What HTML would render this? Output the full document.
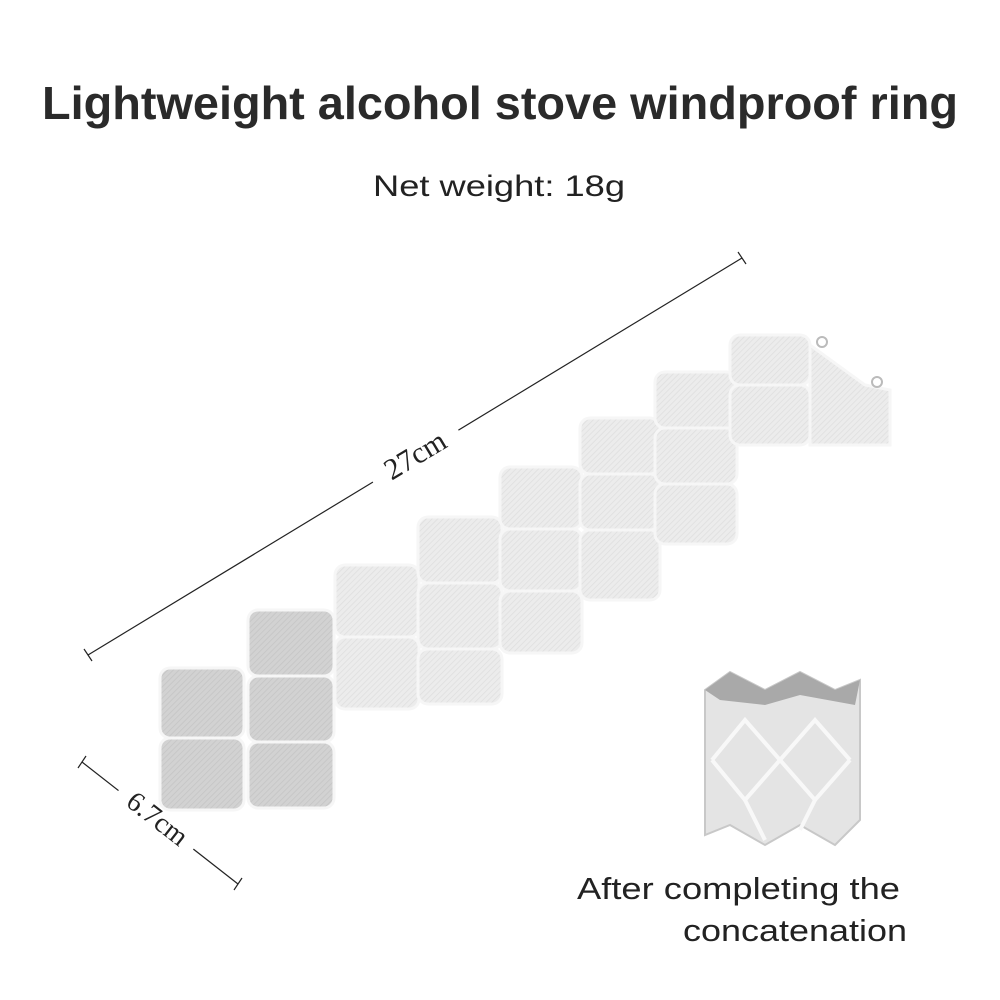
<!DOCTYPE html>
<html><head><meta charset="utf-8"><style>
html,body{margin:0;padding:0;background:#fff;}
svg{display:block;}
</style></head><body>
<svg width="1000" height="1000" viewBox="0 0 1000 1000" xmlns="http://www.w3.org/2000/svg">
<defs>
<pattern id="h" width="4" height="4" patternUnits="userSpaceOnUse" patternTransform="rotate(45)">
<rect width="4" height="4" fill="#ececec"/><line x1="0" y1="0" x2="0" y2="4" stroke="#dedede" stroke-width="1.5"/>
</pattern>
<pattern id="hd" width="4" height="4" patternUnits="userSpaceOnUse" patternTransform="rotate(45)">
<rect width="4" height="4" fill="#d2d2d2"/><line x1="0" y1="0" x2="0" y2="4" stroke="#c4c4c4" stroke-width="1.5"/>
</pattern>
</defs>
<rect width="1000" height="1000" fill="#fff"/>
<text x="42" y="119" font-family="Liberation Sans, sans-serif" font-weight="bold" font-size="46" fill="#2a2a2a" textLength="916" lengthAdjust="spacingAndGlyphs">Lightweight alcohol stove windproof ring</text>
<text x="373" y="196" font-family="Liberation Sans, sans-serif" font-size="30" fill="#222" textLength="252" lengthAdjust="spacingAndGlyphs">Net weight: 18g</text>

<line x1="88" y1="655" x2="742" y2="258" stroke="#222" stroke-width="1.2"/>
<line x1="84" y1="649" x2="92" y2="661" stroke="#222" stroke-width="1.2"/>
<line x1="738" y1="252" x2="746" y2="264" stroke="#222" stroke-width="1.2"/>
<rect x="365" y="425" width="100" height="42" fill="#fff" transform="rotate(-31 415 455)"/>
<text x="415" y="465" text-anchor="middle" font-family="Liberation Serif, serif" font-size="30" fill="#222" transform="rotate(-31 415 455)">27cm</text>

<line x1="82" y1="762" x2="238" y2="884" stroke="#222" stroke-width="1.2"/>
<line x1="78" y1="768" x2="86" y2="756" stroke="#222" stroke-width="1.2"/>
<line x1="234" y1="890" x2="242" y2="878" stroke="#222" stroke-width="1.2"/>
<rect x="110" y="798" width="95" height="40" fill="#fff" transform="rotate(38 158 818)"/>
<text x="158" y="828" text-anchor="middle" font-family="Liberation Serif, serif" font-size="28" fill="#222" transform="rotate(38 158 818)">6.7cm</text>

<g stroke="#f6f6f6" stroke-width="3">
<rect x="160" y="668" width="84" height="70" rx="10" fill="url(#hd)"/>
<rect x="160" y="738" width="84" height="72" rx="10" fill="url(#hd)"/>
<rect x="248" y="610" width="86" height="66" rx="10" fill="url(#hd)"/>
<rect x="248" y="676" width="86" height="66" rx="10" fill="url(#hd)"/>
<rect x="248" y="742" width="86" height="66" rx="10" fill="url(#hd)"/>
<rect x="335" y="565" width="84" height="72" rx="10" fill="url(#h)"/>
<rect x="335" y="637" width="84" height="72" rx="10" fill="url(#h)"/>
<rect x="418" y="517" width="84" height="66" rx="10" fill="url(#h)"/>
<rect x="418" y="583" width="84" height="66" rx="10" fill="url(#h)"/>
<rect x="418" y="649" width="84" height="55" rx="10" fill="url(#h)"/>
<rect x="500" y="467" width="82" height="62" rx="10" fill="url(#h)"/>
<rect x="500" y="529" width="82" height="62" rx="10" fill="url(#h)"/>
<rect x="500" y="591" width="82" height="62" rx="10" fill="url(#h)"/>
<rect x="580" y="418" width="80" height="56" rx="10" fill="url(#h)"/>
<rect x="580" y="474" width="80" height="56" rx="10" fill="url(#h)"/>
<rect x="580" y="530" width="80" height="70" rx="10" fill="url(#h)"/>
<rect x="655" y="372" width="82" height="56" rx="10" fill="url(#h)"/>
<rect x="655" y="428" width="82" height="56" rx="10" fill="url(#h)"/>
<rect x="655" y="484" width="82" height="60" rx="10" fill="url(#h)"/>
<rect x="730" y="335" width="80" height="50" rx="10" fill="url(#h)"/>
<rect x="730" y="385" width="80" height="60" rx="10" fill="url(#h)"/>
<polygon points="810,345 865,385 890,390 890,445 810,445" fill="url(#h)"/>
</g>
<circle cx="822" cy="342" r="5" fill="none" stroke="#bbb" stroke-width="2"/>
<circle cx="877" cy="382" r="5" fill="none" stroke="#bbb" stroke-width="2"/>

<g>
<path d="M705,690 L730,672 L765,690 L800,672 L835,690 L860,680 L860,820 L835,845 L800,825 L765,845 L730,825 L705,835 Z" fill="#e4e4e4" stroke="#c8c8c8" stroke-width="2"/>
<path d="M705,690 L730,672 L765,690 L800,672 L835,690 L860,680 L855,705 L800,695 L765,705 L720,700 Z" fill="#a9a9a9"/>
<g stroke="#f8f8f8" stroke-width="4" fill="none">
<path d="M712,760 L745,720 L780,760 L815,720 L850,760"/>
<path d="M712,760 L745,800 L780,760 L815,800 L850,760"/>
<path d="M745,800 L765,840 M815,800 L800,830"/>
</g>
</g>

<text x="577" y="899" font-family="Liberation Sans, sans-serif" font-size="31" fill="#222" textLength="323" lengthAdjust="spacingAndGlyphs">After completing the</text>
<text x="683" y="941" font-family="Liberation Sans, sans-serif" font-size="31" fill="#222" textLength="224" lengthAdjust="spacingAndGlyphs">concatenation</text>
</svg>
</body></html>
